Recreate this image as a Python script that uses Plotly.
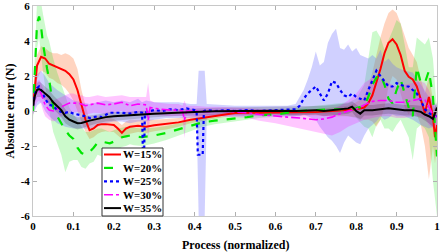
import plotly.graph_objects as go

# ---------------- data ----------------
names = ["W=15%", "W=20%", "W=25%", "W=30%", "W=35%"]

x15 = [0, 0.005, 0.01, 0.02, 0.03, 0.04, 0.05, 0.06, 0.07, 0.08, 0.09, 0.10, 0.11, 0.12, 0.13, 0.14, 0.15, 0.16, 0.17, 0.18, 0.19, 0.20, 0.21, 0.22, 0.23, 0.24, 0.26, 0.28, 0.30, 0.33, 0.36, 0.39, 0.42, 0.45, 0.48, 0.50, 0.55, 0.60, 0.65, 0.70, 0.74, 0.78, 0.80, 0.82, 0.83, 0.84, 0.85, 0.86, 0.87, 0.88, 0.89, 0.90, 0.91, 0.92, 0.93, 0.94, 0.95, 0.96, 0.97, 0.98, 0.99, 0.995, 1.0]
y15 = [0.2, 1.6, 2.6, 3.1, 3.0, 2.7, 2.6, 2.5, 2.4, 2.3, 2.1, 1.8, 1.2, 0.3, -0.5, -1.1, -1.0, -0.8, -0.75, -0.75, -0.78, -0.8, -1.0, -1.25, -1.0, -0.9, -0.85, -0.9, -0.82, -0.75, -0.65, -0.5, -0.4, -0.3, -0.18, -0.12, -0.1, -0.08, -0.1, -0.05, 0.0, 0.05, 0.1, 0.2, 0.45, 0.9, 1.6, 2.4, 3.3, 3.9, 4.1, 3.8, 3.2, 2.3, 1.95, 1.8, 1.4, 0.6, -0.1, 0.8, -0.3, -1.5, -0.8]
u15 = [0.8, 2.3, 3.2, 3.7, 3.6, 3.4, 3.3, 3.3, 3.2, 3.3, 3.2, 3.0, 2.4, 1.2, 0.3, -0.5, -0.4, -0.3, -0.35, -0.4, -0.4, -0.45, -0.6, -0.8, -0.6, -0.5, -0.5, -0.5, -0.5, -0.45, -0.4, -0.3, -0.2, -0.15, -0.05, 0.0, 0.05, 0.05, 0.05, 0.1, 0.2, 0.3, 0.5, 0.8, 1.4, 2.2, 3.2, 4.2, 5.0, 5.6, 5.8, 5.6, 5.0, 4.3, 3.6, 3.2, 2.8, 1.8, 1.0, 2.0, 0.8, 0.0, 0.2]
l15 = [-0.3, 0.9, 1.8, 2.3, 2.2, 1.9, 1.8, 1.6, 1.5, 1.3, 1.0, 0.6, 0.0, -0.6, -1.2, -1.6, -1.5, -1.3, -1.2, -1.15, -1.2, -1.2, -1.4, -1.6, -1.4, -1.3, -1.2, -1.25, -1.15, -1.05, -0.9, -0.7, -0.6, -0.45, -0.32, -0.25, -0.25, -0.22, -0.25, -0.25, -0.3, -0.3, -0.35, -0.5, -0.5, -0.6, -0.9, -0.5, 0.2, 1.4, 2.0, 1.8, 1.0, 0.2, -0.2, 0.2, -0.2, -0.8, -2.0, -3.9, -2.0, -3.0, -2.0]

x20 = [0, 0.005, 0.01, 0.015, 0.02, 0.025, 0.03, 0.035, 0.04, 0.045, 0.05, 0.06, 0.07, 0.08, 0.09, 0.10, 0.11, 0.12, 0.13, 0.14, 0.15, 0.16, 0.17, 0.18, 0.19, 0.20, 0.21, 0.22, 0.23, 0.24, 0.25, 0.27, 0.30, 0.33, 0.36, 0.39, 0.42, 0.45, 0.48, 0.50, 0.53, 0.56, 0.60, 0.63, 0.66, 0.70, 0.74, 0.78, 0.80, 0.82, 0.83, 0.84, 0.85, 0.86, 0.87, 0.88, 0.89, 0.90, 0.91, 0.92, 0.93, 0.94, 0.95, 0.96, 0.97, 0.98, 0.99, 1.0]
y20 = [0.0, 3.0, 5.0, 5.4, 4.8, 3.8, 3.0, 2.4, 1.8, 1.0, 0.2, -0.3, -0.7, -1.1, -1.4, -1.6, -2.1, -2.4, -2.5, -2.35, -2.1, -1.8, -1.75, -1.8, -1.85, -1.75, -1.6, -1.5, -1.45, -1.4, -1.45, -1.5, -1.4, -1.25, -1.05, -0.85, -0.65, -0.55, -0.48, -0.45, -0.35, -0.25, -0.2, -0.1, 0.0, 0.05, 0.1, 0.1, 0.15, 0.3, 0.8, 1.5, 1.9, 2.1, 1.5, 0.7, 0.45, 1.2, 1.8, 1.0, 0.2, -0.3, 2.5, 1.6, 1.6, 2.3, 0.8, -2.6]
u20 = [0.5, 4.0, 6.3, 6.5, 6.2, 5.5, 4.8, 4.3, 4.0, 3.5, 3.0, 2.2, 1.5, 0.8, 0.2, -0.2, -0.5, -0.9, -1.2, -1.2, -1.1, -1.0, -1.0, -1.1, -1.2, -1.1, -1.0, -0.95, -0.9, -0.9, -0.95, -1.0, -0.95, -0.85, -0.7, -0.55, -0.4, -0.35, -0.3, -0.28, -0.2, -0.1, -0.05, 0.1, 0.2, 0.3, 0.4, 0.5, 0.7, 1.5, 3.0, 4.5, 4.6, 4.2, 3.5, 4.0, 4.6, 5.2, 5.0, 3.8, 2.5, 2.5, 4.2, 4.0, 3.8, 4.2, 3.0, 0.0]
l20 = [-0.5, 1.8, 3.6, 4.2, 3.4, 2.2, 1.4, 0.7, 0.0, -0.6, -1.2, -1.8, -2.5, -3.5, -2.9, -2.8, -2.8, -3.2, -3.3, -3.0, -2.9, -2.5, -2.6, -2.5, -2.5, -2.4, -2.2, -2.05, -2.0, -1.9, -1.95, -2.0, -1.85, -1.65, -1.4, -1.15, -0.9, -0.75, -0.66, -0.62, -0.5, -0.4, -0.35, -0.3, -0.2, -0.2, -0.2, -0.3, -0.4, -0.9, -1.0, -1.5, -0.8, -0.5, -1.0, -1.0, -1.2, -0.8, -0.5, -1.0, -1.5, -2.8, -1.0, -0.8, -1.0, -1.5, -4.0, -6.0]

x25 = [0, 0.005, 0.01, 0.015, 0.02, 0.025, 0.03, 0.04, 0.05, 0.06, 0.07, 0.08, 0.09, 0.10, 0.11, 0.12, 0.13, 0.14, 0.15, 0.16, 0.17, 0.18, 0.19, 0.20, 0.22, 0.24, 0.26, 0.27, 0.272, 0.275, 0.277, 0.29, 0.30, 0.32, 0.34, 0.36, 0.38, 0.40, 0.405, 0.408, 0.42, 0.423, 0.43, 0.45, 0.48, 0.50, 0.53, 0.56, 0.60, 0.63, 0.65, 0.66, 0.67, 0.68, 0.69, 0.70, 0.71, 0.72, 0.73, 0.74, 0.75, 0.76, 0.77, 0.78, 0.79, 0.80, 0.81, 0.82, 0.83, 0.84, 0.85, 0.86, 0.87, 0.88, 0.89, 0.90, 0.91, 0.92, 0.93, 0.94, 0.95, 0.96, 0.97, 0.98, 0.99, 1.0]
y25 = [0.3, 1.0, 1.3, 1.4, 1.2, 0.9, 0.7, 0.35, 0.3, 0.05, -0.05, -0.1, -0.05, -0.15, -0.2, -0.25, -0.3, -0.4, -0.35, -0.3, -0.35, -0.2, -0.1, -0.1, -0.1, -0.15, -0.05, -0.1, -2.4, -2.4, -0.1, 0.0, 0.05, 0.0, 0.1, 0.05, 0.15, 0.05, 0.0, -2.5, -2.5, 0.0, 0.05, 0.0, 0.05, 0.0, 0.05, 0.0, 0.05, 0.05, 0.1, 0.3, 0.7, 1.0, 1.2, 1.4, 1.0, 0.6, 1.0, 1.7, 1.6, 1.2, 0.9, 0.8, 1.0, 0.8, 0.7, 0.6, 1.2, 1.7, 2.3, 2.0, 1.7, 1.4, 1.4, 1.6, 1.5, 1.4, 1.4, 1.2, 1.0, 0.6, 0.1, -0.1, -0.3, -0.3]
xb25 = [0, 0.01, 0.02, 0.03, 0.04, 0.05, 0.06, 0.08, 0.10, 0.12, 0.14, 0.16, 0.18, 0.20, 0.22, 0.24, 0.26, 0.27, 0.28, 0.30, 0.33, 0.36, 0.39, 0.405, 0.41, 0.425, 0.43, 0.46, 0.50, 0.55, 0.60, 0.63, 0.65, 0.66, 0.67, 0.68, 0.69, 0.70, 0.71, 0.72, 0.73, 0.74, 0.75, 0.76, 0.77, 0.78, 0.79, 0.80, 0.81, 0.82, 0.83, 0.84, 0.85, 0.86, 0.87, 0.88, 0.89, 0.90, 0.92, 0.94, 0.96, 0.98, 1.0]
u25 = [0.8, 2.1, 2.3, 2.0, 1.6, 1.4, 1.2, 0.9, 0.6, 0.5, 0.4, 0.5, 0.6, 0.5, 0.6, 0.5, 0.7, 0.5, 0.6, 0.5, 0.5, 0.5, 0.4, 0.4, 2.3, 2.3, 0.4, 0.35, 0.3, 0.3, 0.3, 0.3, 0.4, 0.8, 1.2, 1.8, 2.5, 3.4, 2.6, 2.8, 3.9, 4.4, 4.7, 3.6, 3.5, 3.8, 3.4, 3.6, 3.2, 3.1, 3.0, 3.2, 3.0, 3.5, 2.8, 3.0, 2.7, 2.5, 2.3, 2.2, 1.5, 0.8, 0.3]
l25 = [-0.2, 0.3, 0.5, 0.0, -0.3, -0.5, -0.7, -0.9, -1.0, -1.0, -1.0, -0.9, -0.7, -0.6, -0.6, -0.7, -0.6, -0.6, -0.6, -0.5, -0.4, -0.4, -0.4, -0.4, -6.0, -6.0, -0.4, -0.3, -0.3, -0.3, -0.3, -0.3, -0.3, -0.3, -0.2, -0.3, -0.4, -0.5, -0.9, -1.2, -1.5, -1.7, -2.0, -2.4, -1.8, -1.4, -1.6, -1.8, -1.9, -1.4, -1.0, -0.8, -0.6, -0.3, -0.5, -0.4, -0.2, -0.3, -0.3, -0.5, -0.8, -1.0, -0.8]

x30 = [0, 0.005, 0.01, 0.015, 0.02, 0.025, 0.03, 0.04, 0.05, 0.06, 0.07, 0.08, 0.09, 0.10, 0.11, 0.12, 0.13, 0.14, 0.15, 0.16, 0.18, 0.20, 0.22, 0.24, 0.26, 0.28, 0.285, 0.29, 0.30, 0.32, 0.34, 0.36, 0.37, 0.375, 0.38, 0.40, 0.43, 0.46, 0.50, 0.53, 0.56, 0.60, 0.63, 0.66, 0.68, 0.70, 0.72, 0.74, 0.76, 0.78, 0.80, 0.82, 0.84, 0.86, 0.88, 0.90, 0.92, 0.94, 0.96, 0.97, 0.98, 0.99, 1.0]
y30 = [0.3, 0.8, 1.1, 1.2, 1.0, 0.6, 0.35, 0.05, 0.0, 0.1, 0.25, 0.35, 0.45, 0.45, 0.45, 0.4, 0.3, 0.35, 0.4, 0.45, 0.35, 0.4, 0.5, 0.3, 0.4, 0.35, -0.5, 0.2, 0.15, 0.1, 0.05, 0.05, 0.0, -0.5, 0.0, 0.0, -0.05, 0.0, -0.05, -0.1, -0.2, -0.3, -0.35, -0.4, -0.45, -0.5, -0.45, -0.35, -0.15, 0.0, 0.1, 0.35, 0.55, 0.6, 0.6, 0.5, 0.5, 0.6, 0.7, 0.65, 0.2, -0.2, -0.4]
u30 = [0.8, 1.4, 1.7, 1.8, 1.6, 1.3, 1.0, 0.7, 0.6, 0.7, 0.8, 0.9, 1.0, 1.0, 0.9, 0.9, 0.8, 0.8, 0.85, 0.9, 0.8, 0.85, 0.9, 0.8, 0.8, 0.8, 1.6, 0.6, 0.5, 0.45, 0.4, 0.4, 0.3, 0.6, 0.3, 0.3, 0.25, 0.25, 0.2, 0.15, 0.1, 0.05, 0.05, 0.05, 0.0, 0.0, 0.0, 0.1, 0.3, 0.6, 1.0, 1.6, 1.9, 1.8, 1.6, 1.4, 1.5, 1.6, 1.7, 1.6, 1.2, 0.6, 0.2]
l30 = [-0.2, 0.2, 0.5, 0.6, 0.4, 0.0, -0.3, -0.5, -0.6, -0.5, -0.3, -0.2, -0.1, -0.1, -0.05, -0.1, -0.2, -0.15, -0.1, -0.1, -0.15, -0.1, 0.0, -0.2, -0.1, -0.15, -1.65, -0.2, -0.2, -0.25, -0.3, -0.3, -0.3, -1.55, -0.3, -0.3, -0.35, -0.3, -0.35, -0.4, -0.55, -0.7, -0.85, -1.0, -1.1, -1.2, -1.3, -1.4, -1.2, -0.9, -0.7, -0.5, -0.4, -0.3, -0.3, -0.4, -0.4, -0.3, -0.3, -0.4, -0.8, -1.0, -1.0]

x35 = [0, 0.005, 0.01, 0.015, 0.02, 0.03, 0.04, 0.05, 0.06, 0.07, 0.08, 0.09, 0.10, 0.11, 0.12, 0.13, 0.14, 0.16, 0.18, 0.20, 0.23, 0.26, 0.30, 0.35, 0.40, 0.45, 0.50, 0.55, 0.60, 0.65, 0.70, 0.72, 0.74, 0.76, 0.78, 0.79, 0.80, 0.81, 0.82, 0.84, 0.86, 0.88, 0.90, 0.92, 0.94, 0.96, 0.97, 0.98, 0.99, 1.0]
y35 = [0.3, 0.9, 1.2, 1.25, 1.2, 1.0, 0.8, 0.5, 0.3, 0.05, -0.3, -0.5, -0.6, -0.7, -0.68, -0.6, -0.55, -0.45, -0.35, -0.3, -0.27, -0.22, -0.15, -0.08, -0.05, -0.02, 0.0, 0.0, 0.02, 0.0, 0.05, 0.0, 0.05, 0.1, 0.15, 0.25, 0.0, -0.15, 0.05, 0.05, 0.1, 0.15, 0.1, 0.05, 0.05, -0.05, -0.2, -0.3, -0.45, 0.2]
u35 = [0.7, 1.3, 1.6, 1.7, 1.6, 1.4, 1.2, 0.9, 0.7, 0.45, 0.1, -0.15, -0.25, -0.35, -0.35, -0.3, -0.25, -0.2, -0.1, -0.05, -0.05, 0.0, 0.05, 0.12, 0.15, 0.18, 0.2, 0.2, 0.22, 0.25, 0.3, 0.3, 0.35, 0.4, 0.45, 0.55, 0.35, 0.2, 0.35, 0.35, 0.4, 0.45, 0.4, 0.35, 0.35, 0.3, 0.15, 0.1, 0.0, 0.5]
l35 = [-0.1, 0.5, 0.8, 0.8, 0.8, 0.6, 0.4, 0.1, -0.1, -0.35, -0.7, -0.85, -0.95, -1.05, -1.0, -0.9, -0.85, -0.7, -0.6, -0.55, -0.5, -0.45, -0.35, -0.28, -0.25, -0.22, -0.2, -0.2, -0.18, -0.25, -0.2, -0.3, -0.25, -0.2, -0.15, -0.05, -0.35, -0.5, -0.25, -0.25, -0.2, -0.15, -0.2, -0.25, -0.25, -0.4, -0.55, -0.7, -0.9, -0.1]

x_ticks = [0, 0.1, 0.2, 0.3, 0.4, 0.5, 0.6, 0.7, 0.8, 0.9, 1]
x_tick_labels = ["0", "0.1", "0.2", "0.3", "0.4", "0.5", "0.6", "0.7", "0.8", "0.9", "1"]
y_ticks = [-6, -4, -2, 0, 2, 4, 6]
y_tick_labels = ["-6", "-4", "-2", "0", "2", "4", "6"]

# ---------------- style ----------------
W, H = 443, 252
ML, MR, MT, MB = 33, 6, 6, 36
PW, PH = W - ML - MR, H - MT - MB
FONT = "Liberation Serif"

line_colors = ["#ff0000", "#00e600", "#0000ff", "#ff00ff", "#000000"]
band_colors = ["rgba(255,130,70,0.34)", "rgba(0,230,0,0.20)", "rgba(110,110,255,0.32)",
               "rgba(255,0,255,0.22)", "rgba(0,0,0,0.16)"]
dashes = ["solid", "dash", "dot", "dashdot", "solid"]
widths = [2, 2.2, 2.2, 1.6, 2]

series = [
    (x15, y15, x15, u15, l15),
    (x20, y20, x20, u20, l20),
    (x25, y25, xb25, u25, l25),
    (x30, y30, x30, u30, l30),
    (x35, y35, x35, u35, l35),
]

fig = go.Figure()
for i, (xs, ys, xb, ub, lb) in enumerate(series):
    fig.add_trace(go.Scatter(
        x=list(xb) + list(xb)[::-1], y=list(ub) + list(lb)[::-1],
        fill="toself", fillcolor=band_colors[i], line=dict(width=0),
        mode="lines", hoverinfo="skip", showlegend=False))
for i, (xs, ys, xb, ub, lb) in enumerate(series):
    fig.add_trace(go.Scatter(
        x=xs, y=ys, mode="lines", name=names[i],
        line=dict(color=line_colors[i], width=widths[i], dash=dashes[i]),
        showlegend=False))


def px_x(p):
    return (p - ML) / PW


def px_y(p):
    return (H - MB - p) / PH


# manual legend (compact, MATLAB-like)
shapes = [dict(type="rect", xref="paper", yref="paper",
               x0=px_x(102), x1=px_x(163), y0=px_y(216), y1=px_y(148),
               line=dict(color="#333333", width=1), fillcolor="white", layer="above")]
annotations = []
for i, nm in enumerate(names):
    yc = 154.5 + i * 13.4
    shapes.append(dict(type="line", xref="paper", yref="paper",
                       x0=px_x(104), x1=px_x(121), y0=px_y(yc), y1=px_y(yc),
                       line=dict(color=line_colors[i], width=widths[i], dash=dashes[i]),
                       layer="above"))
    annotations.append(dict(xref="paper", yref="paper", x=px_x(120.5), y=px_y(yc),
                            xanchor="left", yanchor="middle", text="<b>%s</b>" % nm,
                            showarrow=False, font=dict(family=FONT, size=11, color="black")))

# x-axis title as annotation (precise placement)
annotations.append(dict(xref="paper", yref="paper", x=0.5, y=px_y(245),
                        xanchor="center", yanchor="middle",
                        text="<b>Process (normalized)</b>", showarrow=False,
                        font=dict(family=FONT, size=12, color="black")))

axis_common = dict(showgrid=False, zeroline=False, showline=True, linecolor="#c8c8c8",
                   linewidth=1, mirror="ticks", ticks="inside", ticklen=4,
                   tickcolor="#b0b0b0", automargin=False, ticklabeloverflow="allow",
                   tickfont=dict(family=FONT, size=11, color="black"))

fig.update_layout(
    width=W, height=H, margin=dict(l=ML, r=MR, t=MT, b=MB, autoexpand=False),
    paper_bgcolor="white", plot_bgcolor="white",
    showlegend=False, shapes=shapes, annotations=annotations,
    xaxis=dict(range=[0, 1], tickvals=x_ticks, ticktext=["<b>%s</b>" % t for t in x_tick_labels],
               **axis_common),
    yaxis=dict(range=[-6, 6], tickvals=y_ticks, ticktext=["<b>%s</b>" % t for t in y_tick_labels],
               title=dict(text="<b>Absolute error (N)</b>", standoff=3,
                          font=dict(family=FONT, size=12, color="black")),
               **axis_common),
)

fig.write_html("out.html", config={"displayModeBar": False},
               post_script="document.body.style.margin='0px';")
